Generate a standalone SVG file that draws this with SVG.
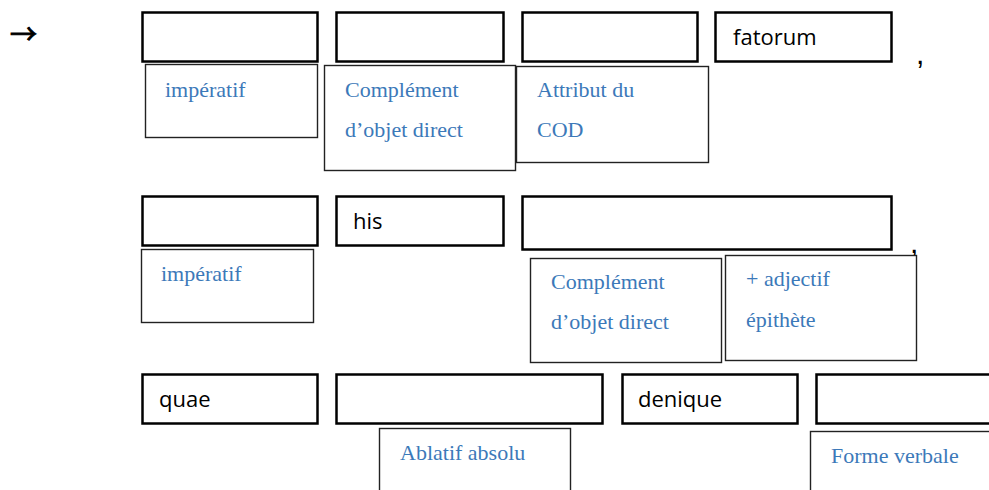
<svg xmlns="http://www.w3.org/2000/svg" width="989" height="490" viewBox="0 0 989 490">
<style>
.w{fill:#fff;stroke:#000;stroke-width:2.5}
.l{fill:#fff;stroke:#222;stroke-width:1.4}
.wt{font-family:"Open Sans","Liberation Sans",sans-serif;font-size:22px;fill:#000}
.lt{font-family:"Liberation Serif","Times New Roman",serif;font-size:22px;fill:#3C79B9}
.p{font-family:"Liberation Sans",sans-serif;font-size:30px;fill:#000}
</style>
<rect width="989" height="490" fill="#fff"/>
<text x="10" y="44" font-family="Noto Sans CJK JP, sans-serif" font-size="27" fill="#000" stroke="#000" stroke-width="1">→</text>
<text class="p" x="916" y="64">,</text>
<text class="p" x="910" y="253">,</text>
<g id="connectors"/>
<!-- Row 1 -->
<g id="w1a"><rect class="w" x="142.5" y="12.5" width="175" height="49"/></g>
<g id="w1b"><rect class="w" x="336.5" y="12.5" width="167" height="49"/></g>
<g id="w1c"><rect class="w" x="522.5" y="12.5" width="175" height="49"/></g>
<g id="w1d"><rect class="w" x="715.5" y="12.5" width="176" height="49"/><text class="wt" x="733" y="45">fatorum</text></g>
<g id="l1a"><rect class="l" x="145.5" y="64.5" width="172" height="73"/><text class="lt" x="165" y="97">impératif</text></g>
<g id="l1b"><rect class="l" x="324.5" y="65.5" width="191" height="105"/><text class="lt" x="345" y="97">Complément</text><text class="lt" x="345" y="137">d’objet direct</text></g>
<g id="l1c"><rect class="l" x="516.5" y="66.5" width="192" height="96"/><text class="lt" x="537" y="97">Attribut du</text><text class="lt" x="537" y="137">COD</text></g>
<!-- Row 2 -->
<g id="w2a"><rect class="w" x="142.5" y="196.5" width="175" height="49"/></g>
<g id="w2b"><rect class="w" x="336.5" y="196.5" width="167" height="49"/><text class="wt" x="353" y="229">his</text></g>
<g id="w2c"><rect class="w" x="522.5" y="196.5" width="369" height="53"/></g>
<g id="l2a"><rect class="l" x="141.5" y="249.5" width="172" height="73"/><text class="lt" x="161" y="281">impératif</text></g>
<g id="l2b"><rect class="l" x="530.5" y="258.5" width="191" height="104"/><text class="lt" x="551" y="289">Complément</text><text class="lt" x="551" y="329">d’objet direct</text></g>
<g id="l2c"><rect class="l" x="725.5" y="255.5" width="191" height="105"/><text class="lt" x="746" y="286">+ adjectif</text><text class="lt" x="746" y="327">épithète</text></g>
<!-- Row 3 -->
<g id="w3a"><rect class="w" x="142.5" y="374.5" width="175" height="49"/><text class="wt" x="159" y="407">quae</text></g>
<g id="w3b"><rect class="w" x="336.5" y="374.5" width="266" height="49"/></g>
<g id="w3c"><rect class="w" x="622.5" y="374.5" width="175" height="49"/><text class="wt" x="638" y="407">denique</text></g>
<g id="w3d"><rect class="w" x="816.5" y="374.5" width="190" height="49"/></g>
<g id="l3a"><rect class="l" x="379.5" y="428.5" width="191" height="80"/><text class="lt" x="400" y="460">Ablatif absolu</text></g>
<g id="l3b"><rect class="l" x="810.5" y="431.5" width="200" height="80"/><text class="lt" x="831" y="463">Forme verbale</text></g>
</svg>
